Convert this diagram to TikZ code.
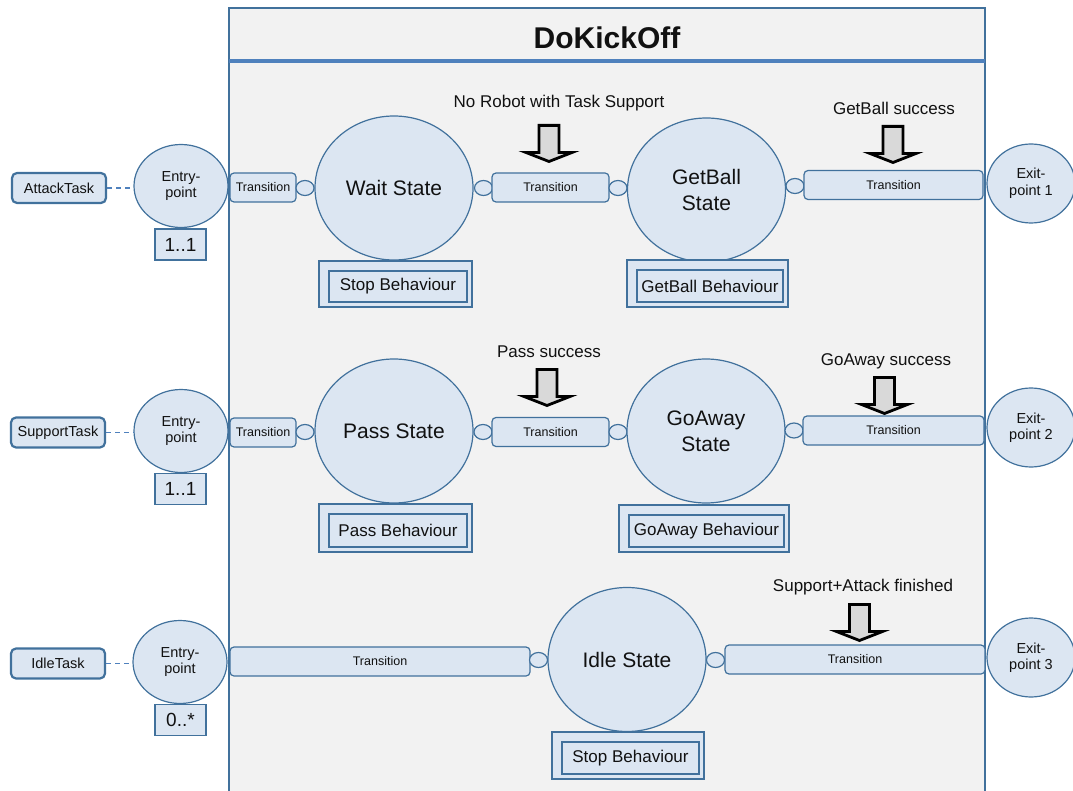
\documentclass[tikz,border=0pt]{standalone}
\usepackage{fontspec}
\setmainfont{Liberation Sans}
\usetikzlibrary{shapes.geometric}

\definecolor{boxfill}{HTML}{DCE6F2}
\definecolor{boxedge}{HTML}{41719C}
\definecolor{panel}{HTML}{F2F2F2}
\definecolor{rulecol}{HTML}{4F81BD}
\definecolor{arrowfill}{HTML}{D9D9D9}
\definecolor{ink}{HTML}{111111}

\newcommand{\fs}[2]{\fontsize{#1}{#2}\selectfont}

\tikzset{
  base/.style={draw=boxedge, fill=boxfill, inner sep=0pt, text=ink},
  task/.style={base, rounded corners=5pt, line width=2.2pt,
    minimum width=94pt, minimum height=30pt, font=\fs{14.5}{17}},
  entry/.style={base, ellipse, line width=1.2pt, minimum width=94pt,
    minimum height=83pt, align=center, font=\fs{14.5}{16.5}},
  exitpt/.style={entry, minimum width=88pt, minimum height=79pt},
  mult/.style={base, line width=1.8pt, minimum width=51pt,
    minimum height=31pt, font=\fs{19}{22}},
  trans/.style={base, rounded corners=4pt, line width=1.2pt,
    minimum height=29pt, font=\fs{12.5}{15}},
  port/.style={base, ellipse, line width=1.2pt, minimum width=18pt,
    minimum height=15pt},
  state/.style={base, ellipse, line width=1.2pt, minimum width=158pt,
    minimum height=144pt, align=center, font=\fs{21}{26}},
  behouter/.style={base, line width=1.8pt},
  behinner/.style={base, line width=1.8pt, font=\fs{17}{20}},
  note/.style={font=\fs{17}{20}, text=ink, inner sep=0pt},
  taskline/.style={draw=rulecol, line width=1.2pt, dash pattern=on 5pt off 4pt},
  blockarrow/.style={draw=black, fill=arrowfill, line width=2.8pt, line join=miter},
}

% behaviour box: inner frame at (#2,#3), size #4 x #5, outer frame offset up-left
\newcommand{\behaviour}[6]{%
  \node[behouter, minimum width=#4pt+15pt, minimum height=#5pt+15pt]
    (#1-frame) at (#2-2.5,#3-2.5) {};
  \node[behinner, minimum width=#4pt, minimum height=#5pt] (#1) at (#2,#3) {#6};
}

% hollow block arrow pointing down; centre x, top y
\newcommand{\eventarrow}[2]{%
  \draw[blockarrow] (#1-10,#2+1.4) -- (#1+10,#2+1.4) -- (#1+10,#2+28.5)
    -- (#1+23,#2+28.5) -- (#1,#2+37.5) -- (#1-23,#2+28.5) -- (#1-10,#2+28.5) -- cycle;
}

\begin{document}
\begin{tikzpicture}[x=1pt, y=-1pt]
\useasboundingbox (0,0) rectangle (1073,791);
\clip (0,0) rectangle (1073,791);

% plan frame
\fill[panel] (229,8) rectangle (985,805);
\draw[boxedge, line width=2pt] (229,805) -- (229,8) -- (985,8) -- (985,805);
\draw[rulecol, line width=3.5pt] (229,61) -- (985,61);
\node[font=\bfseries\fs{30}{34}, text=ink] (title) at (607,38) {DoKickOff};

% ---------- row 1 : attack ----------
\node[task] (task1) at (59,188) {AttackTask};
\node[entry] (entry1) at (181,186) {Entry-\\point};
\node[mult] (mult1) at (180.5,244.5) {1..1};
\draw[taskline] (task1.east) -- (task1.east -| entry1.west);

\node[trans, minimum width=66pt] (trA1) at (263,187.5) {Transition};
\node[port] (portA1) at (305,188) {};
\node[state] (wait) at (394,188) {Wait State};
\node[port] (portB1) at (483.5,188) {};
\node[trans, minimum width=117pt] (trB1) at (550.5,187.5) {Transition};
\node[port] (portC1) at (618,188) {};
\node[state] (getball) at (706.5,190) {GetBall\\State};
\node[port] (portD1) at (795,186) {};
\node[trans, minimum width=179pt] (trC1) at (893.5,185) {Transition};
\node[exitpt] (exit1) at (1031,183.5) {Exit-\\point 1};

\behaviour{stopA}{398}{286.5}{138}{31}{Stop Behaviour}
\behaviour{getballB}{710}{286}{146}{32}{GetBall Behaviour}

\node[note] (noteB1) at (559,103) {No Robot with Task Support};
\eventarrow{549}{124}
\node[note] (noteC1) at (894,108) {GetBall success};
\eventarrow{893}{125}

% ---------- row 2 : support ----------
\node[task] (task2) at (58,432.5) {SupportTask};
\node[entry] (entry2) at (181,431) {Entry-\\point};
\node[mult] (mult2) at (180.5,489) {1..1};
\draw[taskline] (task2.east) -- (task2.east -| entry2.west);

\node[trans, minimum width=66pt] (trA2) at (263,432.5) {Transition};
\node[port] (portA2) at (305,432) {};
\node[state] (pass) at (394,431) {Pass State};
\node[port] (portB2) at (483,432) {};
\node[trans, minimum width=117pt] (trB2) at (550.5,432) {Transition};
\node[port] (portC2) at (618,432) {};
\node[state] (goaway) at (706,431) {GoAway\\State};
\node[port] (portD2) at (794,430.5) {};
\node[trans, minimum width=181pt] (trC2) at (893.5,430.5) {Transition};
\node[exitpt] (exit2) at (1031,427.5) {Exit-\\point 2};

\behaviour{passB}{398}{530.5}{138}{33}{Pass Behaviour}
\behaviour{goawayB}{706.5}{531}{155}{32}{GoAway Behaviour}

\node[note] (noteB2) at (549,352) {Pass success};
\eventarrow{547}{368}
\node[note] (noteC2) at (886,361) {GoAway success};
\eventarrow{884.5}{376}

% ---------- row 3 : idle ----------
\node[task] (task3) at (58,663.5) {IdleTask};
\node[entry] (entry3) at (180,662) {Entry-\\point};
\node[mult] (mult3) at (180.5,720) {0..*};
\draw[taskline] (task3.east) -- (task3.east -| entry3.west);

\node[trans, minimum width=300pt] (trA3) at (380,661.5) {Transition};
\node[port] (portA3) at (538.5,660) {};
\node[state] (idle) at (627,659.5) {Idle State};
\node[port] (portB3) at (715.5,660) {};
\node[trans, minimum width=260pt] (trB3) at (855,659.5) {Transition};
\node[exitpt] (exit3) at (1031,657.5) {Exit-\\point 3};

\behaviour{stopC}{630.5}{758}{137}{32}{Stop Behaviour}

\node[note] (noteB3) at (863,587) {Support+Attack finished};
\eventarrow{859.5}{603}
\end{tikzpicture}
\end{document}
